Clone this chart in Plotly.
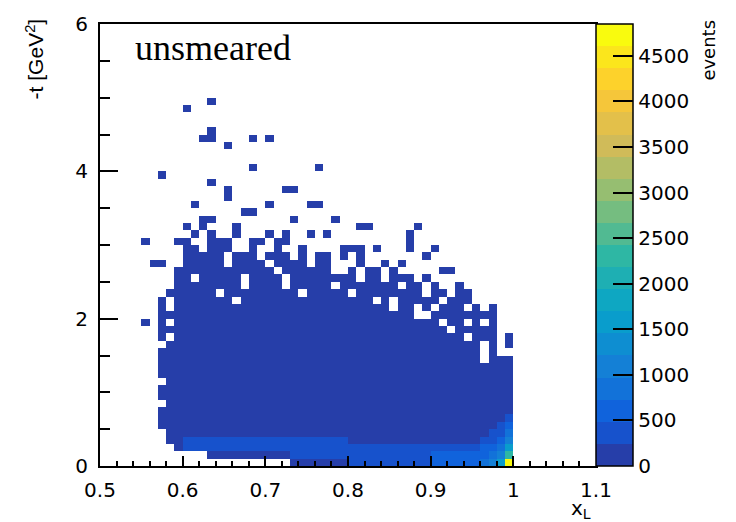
import plotly.graph_objects as go

# ---------------- data ----------------
# histogram binning: x_L 0.5..1.1 in 0.01 bins, -t 0..6 in 0.1 bins
X_EDGES = [0.5, 1.1]
Y_EDGES = [0.0, 6.0]
N_XBINS = 60
N_YBINS = 60

# filled cells above the solid body: row -> list of (first_col, last_col) runs
UPPER_CELLS = {
    49: [(13, 13)],
    48: [(10, 10)],
    45: [(13, 13)],
    44: [(12, 13), (18, 18), (20, 20)],
    43: [(15, 15)],
    40: [(18, 18), (26, 26)],
    39: [(7, 7)],
    38: [(13, 13)],
    37: [(15, 15), (22, 23)],
    36: [(15, 15)],
    35: [(11, 11), (20, 20), (25, 26)],
    34: [(17, 18)],
    33: [(12, 13), (23, 23), (28, 28)],
    32: [(10, 10), (12, 12), (16, 16), (31, 32), (38, 38)],
    31: [(11, 11), (13, 13), (16, 16), (20, 20), (22, 22), (25, 25), (27, 27), (37, 37)],
    30: [(5, 5), (9, 10), (13, 15), (18, 19), (21, 22), (37, 37)],
    29: [(10, 11), (13, 15), (18, 18), (21, 21), (24, 24), (29, 31), (33, 33), (37, 37), (40, 40)],
    28: [(10, 14), (16, 18), (20, 22), (24, 24), (26, 27), (29, 29), (31, 31), (39, 39)],
    27: [(6, 7), (10, 14), (16, 19), (21, 24), (26, 27), (31, 31), (34, 34), (36, 36)],
    26: [(9, 20), (22, 27), (30, 30), (32, 33), (35, 35), (41, 42)],
    25: [(9, 10), (12, 16), (18, 21), (23, 30), (32, 33), (35, 37), (39, 39)],
    24: [(9, 16), (18, 21), (23, 27), (29, 35), (37, 38), (40, 40), (43, 43)],
    23: [(8, 13), (15, 23), (25, 29), (31, 38), (40, 41), (43, 44)],
    22: [(7, 7), (9, 15), (17, 32), (34, 34), (36, 40), (42, 44)],
    21: [(7, 7), (9, 34), (36, 37), (39, 39), (41, 43), (45, 45), (47, 47)],
    20: [(7, 37), (40, 47)],
    19: [(5, 5), (7, 7), (9, 40), (42, 43), (45, 45), (47, 47)],
    18: [(7, 41), (43, 47)],
    17: [(7, 7), (9, 43), (45, 47), (49, 49)],
    16: [(8, 45), (47, 47), (49, 49)],
    15: [(7, 45), (47, 47)],
    14: [(7, 45), (47, 49)],
}
# solid body rows 7..13 for columns 7..49, except these holes (col, row)
SOLID_ROWS = (7, 13)
SOLID_COLS = (7, 49)
SOLID_HOLES = [(7, 8), (7, 11)]

# rows 0..6 per column, one character per row: '.' empty, digit/Y = colour band
BOTTOM_ROWS = {
    7: ".....00", 8: "...0000", 9: "..00000", 10: "..11000", 11: "..11000",
    12: "..11000", 13: ".011000", 14: ".011000", 15: ".011000", 16: ".011000",
    17: ".011000", 18: ".011000", 19: ".011000", 20: ".011000", 21: ".011000",
    22: ".011000", 23: "0111000", 24: "0111000", 25: "0111000", 26: "0111000",
    27: "0111000", 28: "0111000", 29: "0111000", 30: "1110000", 31: "1110000",
    32: "1110000", 33: "1110000", 34: "1110000", 35: "1110000", 36: "1110000",
    37: "1110000", 38: "1110000", 39: "1110000", 40: "2210000", 41: "2210000",
    42: "2210000", 43: "2210000", 44: "2210000", 45: "2210000", 46: "3221000",
    47: "4321100", 48: "6432110", 49: "Y964321",
}
# events per cell for each colour band
BAND_COUNTS = {"0": 120, "1": 360, "2": 600, "3": 850, "4": 1100, "5": 1350,
               "6": 1600, "7": 1850, "8": 2100, "9": 2300, "Y": 4790}

Z_MAX = 4850
CBAR_TICKS = [0, 500, 1000, 1500, 2000, 2500, 3000, 3500, 4000, 4500]
X_TICKS = [0.5, 0.6, 0.7, 0.8, 0.9, 1.0, 1.1]
X_TICKTEXT = ["0.5", "0.6", "0.7", "0.8", "0.9", "1", "1.1"]
Y_TICKS = [0, 2, 4, 6]
N_CONTOURS = 20

# ---------------- build histogram ----------------
dx = (X_EDGES[1] - X_EDGES[0]) / N_XBINS
dy = (Y_EDGES[1] - Y_EDGES[0]) / N_YBINS
xc = [X_EDGES[0] + dx * (i + 0.5) for i in range(N_XBINS)]
yc = [Y_EDGES[0] + dy * (j + 0.5) for j in range(N_YBINS)]
z = [[None] * N_XBINS for _ in range(N_YBINS)]

for row, runs in UPPER_CELLS.items():
    for c0, c1 in runs:
        for c in range(c0, c1 + 1):
            z[row][c] = BAND_COUNTS["0"]
for c in range(SOLID_COLS[0], SOLID_COLS[1] + 1):
    for r in range(SOLID_ROWS[0], SOLID_ROWS[1] + 1):
        if (c, r) not in SOLID_HOLES:
            z[r][c] = BAND_COUNTS["0"]
for c, s in BOTTOM_ROWS.items():
    for r, ch in enumerate(s):
        if ch != ".":
            z[r][c] = BAND_COUNTS[ch]

# ROOT kBird palette, discretised into 20 contour bands
stops = [0, .125, .25, .375, .5, .625, .75, .875, 1]
pr = [0.2082, 0.0592, 0.0780, 0.0232, 0.1802, 0.5301, 0.8186, 0.9956, 0.9764]
pg = [0.1664, 0.3599, 0.5041, 0.6419, 0.7178, 0.7492, 0.7328, 0.7862, 0.9832]
pb = [0.5293, 0.8684, 0.8385, 0.7914, 0.6425, 0.4662, 0.3499, 0.1968, 0.0539]


def bird(t):
    t = min(max(t, 0), 1)
    for k in range(len(stops) - 1):
        if t <= stops[k + 1]:
            f = (t - stops[k]) / (stops[k + 1] - stops[k])
            break
    col = [a[k] + (a[k + 1] - a[k]) * f for a in (pr, pg, pb)]
    return "rgb(%d,%d,%d)" % tuple(round(255 * v) for v in col)


cscale = []
for k in range(N_CONTOURS):
    c = bird((k + 0.99) / N_CONTOURS)
    cscale.append([k / N_CONTOURS, c])
    cscale.append([(k + 1) / N_CONTOURS, c])

TICKFONT = dict(family="DejaVu Sans", size=20, color="black")

fig = go.Figure(go.Heatmap(
    x=xc, y=yc, z=z, zmin=0, zmax=Z_MAX, colorscale=cscale, zsmooth=False,
    hoverinfo="skip",
    colorbar=dict(
        x=1.0, xanchor="left", xpad=0, y=0.5, yanchor="middle", ypad=0,
        len=1.0, lenmode="fraction", thickness=37,
        outlinewidth=1.5, outlinecolor="black",
        tickmode="array", tickvals=CBAR_TICKS, ticks="inside", ticklen=20,
        tickwidth=1.5, tickcolor="black", tickfont=TICKFONT,
    ),
))

fig.update_layout(
    width=736, height=522,
    margin=dict(l=100, r=140, t=15, b=56),
    paper_bgcolor="white", plot_bgcolor="white",
    showlegend=False,
    xaxis=dict(
        range=X_EDGES, showline=True, linewidth=2, linecolor="black", mirror=True,
        ticks="inside", ticklen=10, tickwidth=1.5, tickcolor="black",
        tickmode="array", tickvals=X_TICKS, ticktext=X_TICKTEXT, tickfont=TICKFONT,
        showgrid=False, zeroline=False, ticklabelstandoff=5,
        minor=dict(dtick=0.02, tick0=0.5, ticks="inside", ticklen=5,
                   tickwidth=1.5, tickcolor="black", showgrid=False),
    ),
    yaxis=dict(
        range=Y_EDGES, showline=True, linewidth=2, linecolor="black", mirror=True,
        ticks="inside", ticklen=18, tickwidth=1.5, tickcolor="black",
        tickmode="array", tickvals=Y_TICKS, tickfont=TICKFONT,
        showgrid=False, zeroline=False, ticklabelstandoff=6,
        minor=dict(dtick=0.5, tick0=0, ticks="inside", ticklen=10,
                   tickwidth=1.5, tickcolor="black", showgrid=False),
    ),
    annotations=[
        dict(text="unsmeared", xref="paper", yref="paper", x=0.066, y=0.945,
             xanchor="left", yanchor="middle", showarrow=False,
             font=dict(family="Liberation Serif", size=36, color="black")),
        dict(text="-t [GeV<sup>2</sup>]", xref="paper", yref="paper", x=-0.131, y=0.92,
             xanchor="center", yanchor="middle", textangle=-90, showarrow=False,
             font=dict(family="Liberation Sans", size=21, color="black")),
        dict(text="events", xref="paper", yref="paper", x=1.226, y=0.94,
             xanchor="center", yanchor="middle", textangle=-90, showarrow=False,
             font=dict(family="DejaVu Sans", size=18, color="black")),
        dict(text="x<sub>L</sub>", xref="paper", yref="paper", x=0.994, y=-0.0976,
             xanchor="right", yanchor="middle", showarrow=False,
             font=dict(family="DejaVu Sans", size=20, color="black")),
    ],
)

fig.write_html("out.html")
